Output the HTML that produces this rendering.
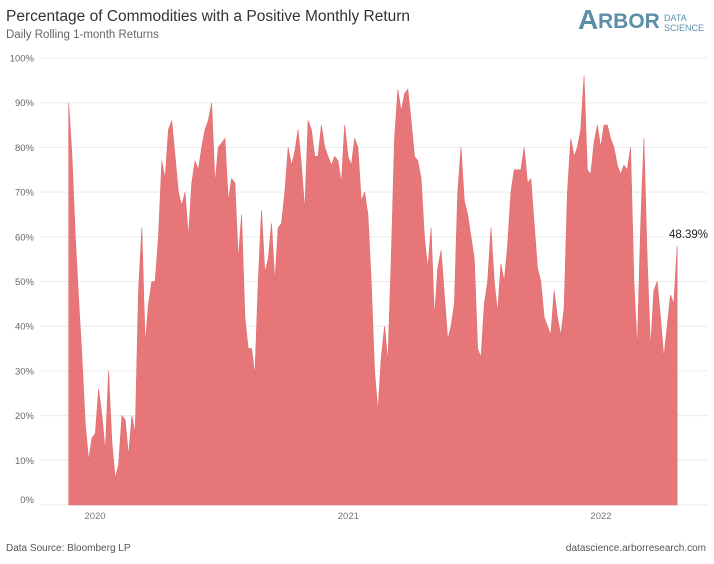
<!DOCTYPE html>
<html><head><meta charset="utf-8"><style>
body{margin:0;background:#fff;width:714px;height:564px;overflow:hidden;font-family:"Liberation Sans",sans-serif;position:relative}
.t{position:absolute;white-space:nowrap}
</style></head><body>
<div class="t" style="left:6px;top:8px;font-size:15.5px;color:#333">Percentage of Commodities with a Positive Monthly Return</div>
<div class="t" style="left:6px;top:29px;font-size:11.5px;color:#666">Daily Rolling 1-month Returns</div>
<div style="position:absolute;left:578px;top:4px;color:#5b8fa8">
<span class="t" style="left:0;top:0;font-size:28px;font-weight:bold">A</span><span class="t" style="left:20px;top:6px;font-size:21px;font-weight:bold">RBOR</span>
<span class="t" style="left:86px;top:9px;font-size:9px;line-height:10px">DATA<br>SCIENCE</span></div>
<svg id="chart" width="714" height="564" style="position:absolute;left:0;top:0"></svg>
<div class="t" style="left:6px;top:543px;font-size:10px;color:#555">Data Source: Bloomberg LP</div>
<div class="t" style="right:8px;top:543px;font-size:10px;color:#555">datascience.arborresearch.com</div>
<script>
const startDate="2019-11-24";
const endDate="2022-04-21";
const values=[90,78,60,46,33,18,10,15,16,26,20,12,30,14,6,9,20,19,11,20,16,48,62,36,45,50,50,60,77,73,84,86,78,70,67,70,60,72,77,75,80,84,86,90,72,80,81,82,68,73,72,55,65,42,35,35,29,50,66,52,55,63,50,62,63,70,80,76,79,84,76,66,86,84,78,78,85,80,78,76,78,77,72,85,78,76,82,80,68,70,65,50,30,21,33,40,32,55,82,93,88,92,93,86,78,77,73,60,53,62,42,53,57,47,37,40,45,70,80,68,65,60,55,35,33,45,50,62,50,43,54,50,58,70,75,75,75,80,72,73,63,53,50,42,40,38,48,42,38,44,70,82,78,80,84,96,75,74,81,85,80,85,85,82,80,76,74,76,75,80,50,35,62,82,55,35,48,50,42,33,40,47,45,58];
const yTicks=[0,10,20,30,40,50,60,70,80,90,100];
const yearTicks=["2020","2021","2022"];
const lastLabel="48.39%";
const svg=document.getElementById('chart');
const NS="http://www.w3.org/2000/svg";
const X0=95, PXDAY=253/365.5, Y0=505, PXPCT=4.47;
const ref=Date.parse("2020-01-01");
function xd(s){return X0+(Date.parse(s)-ref)/864e5*PXDAY;}
function y(v){return Y0-v*PXPCT;}
const xs=xd(startDate), xe=xd(endDate);
function xi(i){return xs+(xe-xs)*i/(values.length-1);}
function mk(t,a){const e=document.createElementNS(NS,t);for(const k in a)e.setAttribute(k,a[k]);svg.appendChild(e);return e;}
yTicks.forEach(v=>{
 const g=mk('line',{x1:40,x2:708,y1:y(v),y2:y(v),stroke:'#ececec','stroke-width':1});
 
 
 const t=mk('text',{x:34,y:(v===0?y(v)-2:y(v)+3.5),'text-anchor':'end','font-size':'9.5',fill:'#666','font-family':'Liberation Sans, sans-serif'});
 t.textContent=v+'%';
 
 
});
let d='M'+xi(0)+','+Y0;
values.forEach((v,i)=>{d+=' L'+xi(i).toFixed(2)+','+y(v).toFixed(2);});
d+=' L'+xi(values.length-1)+','+Y0+' Z';
const area=mk('path',{d:d,fill:'#e67678',stroke:'#df6d70','stroke-width':0.6});


yearTicks.forEach(yr=>{
 const t=mk('text',{x:xd(yr+'-01-01'),y:519,'text-anchor':'middle','font-size':'9.5',fill:'#777','font-family':'Liberation Sans, sans-serif'});
 t.textContent=yr;
 
 
});
const lbl=mk('text',{x:708,y:238,'text-anchor':'end','font-size':'11.5',fill:'#222','font-family':'Liberation Sans, sans-serif'});
lbl.textContent=lastLabel;


</script>
</body></html>
